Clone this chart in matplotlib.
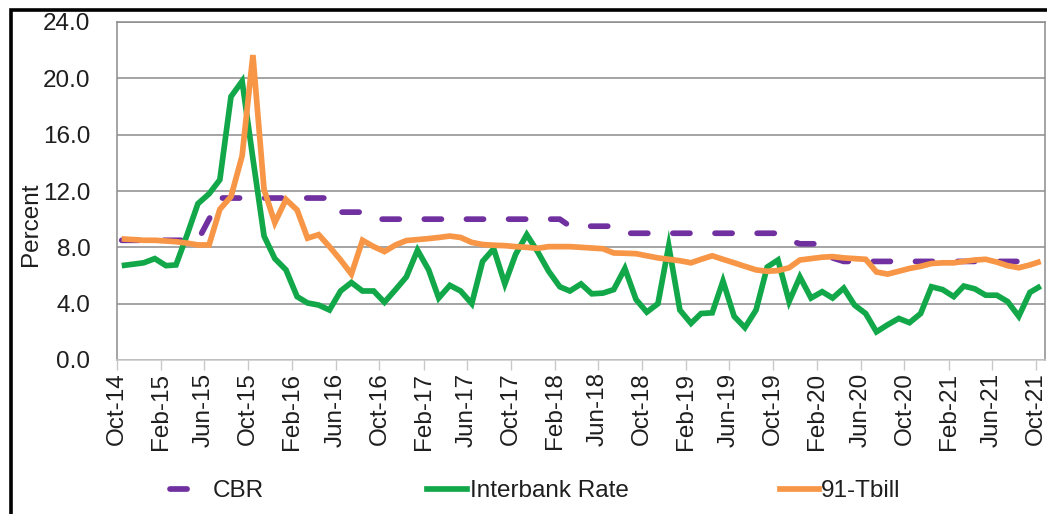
import matplotlib
matplotlib.use("Agg")
import matplotlib.pyplot as plt
import pandas as pd
import numpy as np
from matplotlib.patches import Rectangle
from matplotlib.lines import Line2D

# ---- data (monthly, Oct-14 .. Oct-21) ----
months = pd.date_range("2014-10-01", "2021-10-01", freq="MS")
cbr = ([8.5] * 8 + [10.0] + [11.5] * 11 + [10.5] * 3 + [10.0] * 18 + [9.5] * 5
       + [9.0] * 15 + [8.5] + [8.25] * 3 + [7.25] + [7.0] * 19)
interbank = [6.7, 6.8, 6.9, 7.2, 6.7, 6.75, 8.9, 11.1, 11.8, 12.8,
             18.7, 19.8, 14.3, 8.8, 7.2, 6.4, 4.5, 4.05, 3.9, 3.55,
             4.9, 5.5, 4.9, 4.9, 4.1, 5.0, 5.9, 7.8, 6.4, 4.4,
             5.3, 4.9, 4.0, 7.0, 7.9, 5.4, 7.5, 8.9, 7.7, 6.3,
             5.2, 4.9, 5.4, 4.7, 4.75, 5.0, 6.5, 4.3, 3.4, 4.0,
             8.1, 3.55, 2.6, 3.3, 3.35, 5.6, 3.1, 2.3, 3.55, 6.6,
             7.1, 4.15, 5.9, 4.4, 4.85, 4.4, 5.1, 3.9, 3.3, 2.0,
             2.5, 2.95, 2.65, 3.3, 5.2, 5.0, 4.5, 5.25, 5.05, 4.6,
             4.6, 4.15, 3.1, 4.8, 5.25]
tbill = [8.6, 8.55, 8.5, 8.5, 8.45, 8.4, 8.3, 8.17, 8.17, 10.7,
         11.6, 14.5, 21.65, 12.1, 9.75, 11.4, 10.65, 8.65, 8.9, 8.05,
         7.1, 6.1, 8.5, 8.05, 7.7, 8.17, 8.48, 8.55, 8.62, 8.7,
         8.8, 8.7, 8.35, 8.2, 8.15, 8.12, 8.05, 8.0, 7.93, 8.05,
         8.05, 8.05, 8.0, 7.95, 7.9, 7.6, 7.58, 7.55, 7.4, 7.25,
         7.15, 7.05, 6.9, 7.15, 7.4, 7.15, 6.9, 6.65, 6.4, 6.3,
         6.35, 6.55, 7.1, 7.2, 7.3, 7.34, 7.25, 7.2, 7.15, 6.25,
         6.1, 6.3, 6.5, 6.65, 6.85, 6.9, 6.9, 7.0, 7.1, 7.15,
         6.95, 6.7, 6.55, 6.75, 7.0]
series_names = ["CBR", "Interbank Rate", "91-Tbill"]
y_ticks = [0, 4, 8, 12, 16, 20, 24]

# ---- styles ----
PURPLE = "#7030A0"
GREEN = "#12A84A"
ORANGE = "#F79646"
GRID = "#8C8C8C"
TXT = "#1E1E1E"
FS = 17.5
plt.rcParams["font.family"] = ["Liberation Sans", "DejaVu Sans"]

fig = plt.figure(figsize=(10.47, 5.14), dpi=100)
W, H = 1047, 514
AX_L, AX_R, AX_T, AX_B = 116.7, 1045, 22, 360
ax = fig.add_axes([AX_L / W, 1 - AX_B / H, (AX_R - AX_L) / W, (AX_B - AX_T) / H])

dates = months + pd.Timedelta(days=14)
lw = 4.1
dash = (0, (3.0, 4.4))
ax.plot(dates, cbr, color=PURPLE, lw=lw, linestyle=dash,
        dash_capstyle="round", zorder=3)
ax.plot(dates, interbank, color=GREEN, lw=lw, solid_joinstyle="miter",
        solid_capstyle="butt", zorder=4)
ax.plot(dates, tbill, color=ORANGE, lw=lw, solid_joinstyle="miter",
        solid_capstyle="butt", zorder=5)

ax.set_ylim(0, 24)
ax.set_yticks(y_ticks)
ax.set_yticklabels([f"{v:.1f}" for v in y_ticks], fontsize=FS, color=TXT)
ax.grid(axis="y", color=GRID, lw=1.1)
ax.set_axisbelow(True)

xticks = pd.date_range("2014-10-01", "2021-10-01", freq="4MS")
ax.set_xlim(pd.Timestamp("2014-10-01"), pd.Timestamp("2021-10-27"))
ax.set_xticks(xticks)
ax.set_xticklabels([d.strftime("%b-%y") for d in xticks], rotation=90,
                   fontsize=FS, color=TXT)
ax.tick_params(axis="x", length=7, color="#C8C8C8", width=1, pad=2)
ax.tick_params(axis="y", length=0, pad=19)

for s in ["left", "right", "top", "bottom"]:
    ax.spines[s].set_color(GRID)
    ax.spines[s].set_linewidth(1.1)
ax.spines["bottom"].set_color("#C8C8C8")

ax.set_ylabel("Percent", fontsize=FS, color=TXT)
ax.yaxis.set_label_coords((42 - AX_L) / (AX_R - AX_L), (AX_B - 224) / (AX_B - AX_T))

# legend: one entry each, placed like the original
fs_px = FS * 100 / 72
entries = [
    (Line2D([], [], color=PURPLE, lw=lw, linestyle=dash, dash_capstyle="round"),
     series_names[0], 170, 210, 213),
    (Line2D([], [], color=GREEN, lw=lw), series_names[1], 427, 467, 470),
    (Line2D([], [], color=ORANGE, lw=lw), series_names[2], 780, 819, 821),
]
for h, lab, x0, x1, xt in entries:
    fig.legend([h], [lab], loc="center left", frameon=False, fontsize=FS,
               bbox_to_anchor=(x0 / W, 1 - 491 / H), borderpad=0,
               borderaxespad=0, handlelength=(x1 - x0) / fs_px,
               handletextpad=(xt - x1) / fs_px, labelcolor=TXT)

# outer black frame
fig.add_artist(Rectangle((11 / W, -0.02), 1.1, 1 - 9.5 / H + 0.02,
                         transform=fig.transFigure, fill=False,
                         edgecolor="black", lw=2.6, zorder=10))

fig.savefig("out.png", dpi=100, facecolor="white")
